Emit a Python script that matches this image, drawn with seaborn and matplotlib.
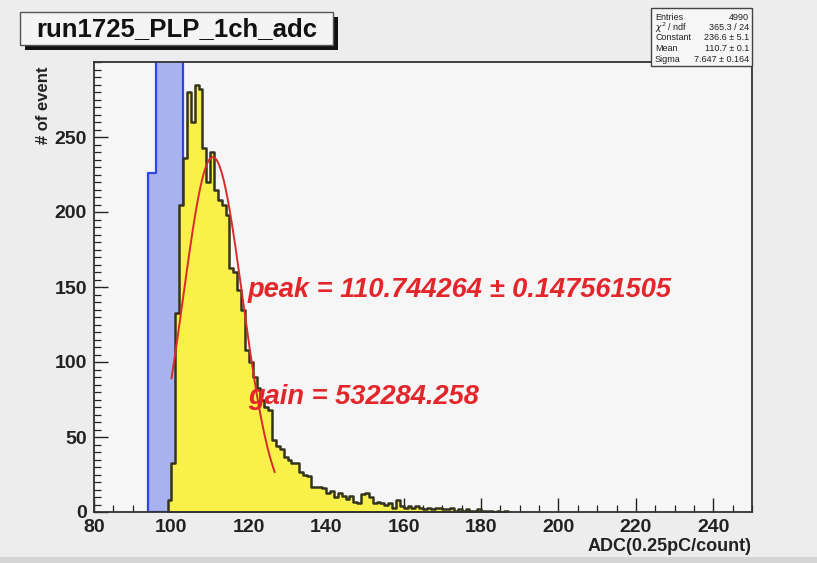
import numpy as np
import pandas as pd
import matplotlib
matplotlib.use("Agg")
import matplotlib.pyplot as plt
import seaborn as sns
from matplotlib.patches import Rectangle
from matplotlib.ticker import MultipleLocator, FixedLocator

# ---------------- data ----------------
adc_bins = list(range(99, 187))  # left bin edges, width 1
adc_counts = [8, 33, 133, 205, 236, 280, 260, 285, 282, 243,
              220, 240, 215, 208, 205, 198, 163, 160, 148, 135,
              108, 100, 90, 83, 75, 70, 68, 48, 44, 42,
              37, 35, 33, 33, 27, 25, 24, 17, 17, 17,
              16, 13, 14, 10, 13, 11, 9, 11, 7, 6,
              12, 13, 10, 6, 7, 6, 5, 6, 3, 8,
              4, 3, 4, 3, 4, 3, 2, 3, 2, 3,
              3, 2, 2, 3, 1, 2, 1, 2, 1, 1,
              2, 1, 1, 1, 0, 1, 0, 1]
ped_bins = [94, 95, 96, 97, 98, 99, 100, 101, 102]
ped_counts = [226, 226, 900, 900, 900, 900, 900, 900, 900]

fit_const = 236.6
fit_mean = 110.7
fit_sigma = 7.647
fit_range = [100.0, 126.7]

y_tick_values = [0, 50, 100, 150, 200, 250]
title_text = "run1725_PLP_1ch_adc"
stats_labels = ["Entries", r"$\chi^2$ / ndf", "Constant", "Mean", "Sigma"]
stats_values = ["4990", "365.3 / 24", "236.6 \u00b1 5.1", "110.7 \u00b1 0.1", "7.647 \u00b1 0.164"]
peak_text = "peak = 110.744264 \u00b1 0.147561505"
gain_text = "gain = 532284.258"

# ---------------- figure ----------------
sns.set_style("ticks")
plt.rcParams["font.family"] = ["Liberation Sans", "DejaVu Sans"]

W, H = 817, 563
fig = plt.figure(figsize=(W / 100, H / 100), dpi=100, facecolor="#ededed")
ax = fig.add_axes([94 / W, 1 - 512 / H, (752 - 94) / W, (512 - 62) / H])
ax.set_facecolor("#f6f6f6")

ped_df = pd.DataFrame({"adc": [b + 0.5 for b in ped_bins], "n": ped_counts})
ped_edges = [float(b) for b in range(94, 104)]
sns.histplot(data=ped_df, x="adc", weights="n", bins=ped_edges,
             element="step", fill=True, ax=ax,
             facecolor="#a8b2ef", edgecolor="#2f45e4", linewidth=1.6, alpha=1.0)

adc_df = pd.DataFrame({"adc": [b + 0.5 for b in adc_bins], "n": adc_counts})
adc_edges = [float(b) for b in range(99, 188)]
sns.histplot(data=adc_df, x="adc", weights="n", bins=adc_edges,
             element="step", fill=True, ax=ax,
             facecolor="#f9f04a", edgecolor="#35341c", linewidth=1.8, alpha=1.0)

xs = np.linspace(fit_range[0], fit_range[1], 200)
ys = fit_const * np.exp(-0.5 * ((xs - fit_mean) / fit_sigma) ** 2)
sns.lineplot(x=xs, y=ys, ax=ax, color="#d92b2b", linewidth=1.4)

ax.set_xlim(80, 250)
ax.set_ylim(0, 300)
ax.xaxis.set_major_locator(MultipleLocator(20))
ax.xaxis.set_minor_locator(MultipleLocator(5))
ax.yaxis.set_major_locator(FixedLocator(y_tick_values))
ax.yaxis.set_minor_locator(MultipleLocator(5))
ax.tick_params(which="both", direction="in", top=False, right=False, colors="#222222")
ax.tick_params(which="major", length=10, width=1.0, labelsize=14, pad=5)
ax.tick_params(which="minor", length=5, width=0.9)
for lab in ax.get_xticklabels() + ax.get_yticklabels():
    lab.set_fontweight("bold")
for s in ax.spines.values():
    s.set_color("#333333")
    s.set_linewidth(1.3)

ax.set_xlabel("ADC(0.25pC/count)", fontsize=13, fontweight="bold", loc="right", color="#222222")
ax.xaxis.set_label_coords(1.0, -0.058)
ax.set_ylabel("# of event", fontsize=12, fontweight="bold", loc="top", color="#222222")
ax.yaxis.set_label_coords(-0.066, 0.99)

ax.text(119.7, 148, peak_text, color="#e3262b", fontsize=19.6, fontweight="bold",
        fontstyle="italic", va="center", ha="left")
ax.text(119.7, 77, gain_text, color="#e3262b", fontsize=19.6, fontweight="bold",
        fontstyle="italic", va="center", ha="left")

# title box with shadow
def fx(px):
    return px / W
def fy(py):
    return 1 - py / H

fig.patches.append(Rectangle((fx(25), fy(50)), fx(313), 33 / H, transform=fig.transFigure,
                             facecolor="#111111", edgecolor="none", zorder=5))
fig.patches.append(Rectangle((fx(20), fy(45)), fx(313), 33 / H, transform=fig.transFigure,
                             facecolor="#f4f4f4", edgecolor="#555555", linewidth=1.0, zorder=6))
fig.text(fx(177), fy(29), title_text, fontsize=18.5, fontweight="bold", ha="center",
         va="center", color="#111111", zorder=7)

# stats box
fig.patches.append(Rectangle((fx(651), fy(66)), fx(101), 58 / H, transform=fig.transFigure,
                             facecolor="#f6f6f6", edgecolor="#444444", linewidth=1.0, zorder=6))
row_y = [17, 27.5, 38, 48.5, 59]
for lab, val, ry in zip(stats_labels, stats_values, row_y):
    fig.text(fx(655), fy(ry), lab, fontsize=6.5, ha="left", va="center", color="#222222", zorder=7)
    fig.text(fx(749), fy(ry), val, fontsize=6.5, ha="right", va="center", color="#222222", zorder=7)

# bottom strip
fig.patches.append(Rectangle((0, 0), 1, 6 / H, transform=fig.transFigure,
                             facecolor="#d4d4d4", edgecolor="none", zorder=1))

fig.savefig("out.png", dpi=100, facecolor=fig.get_facecolor())
